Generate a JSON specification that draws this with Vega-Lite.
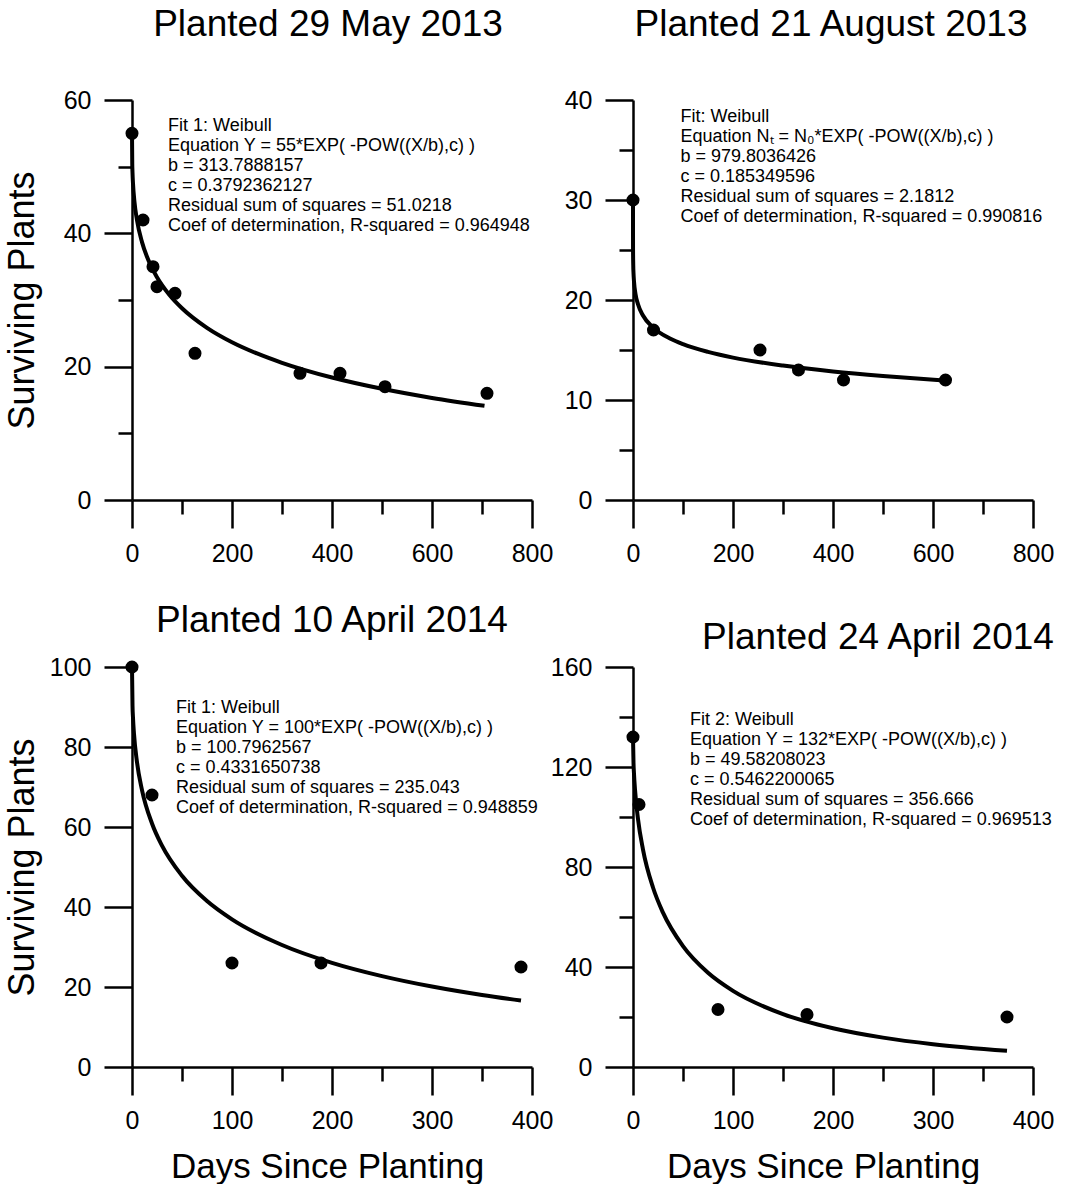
{
  "$schema": "https://vega.github.io/schema/vega-lite/v6.json",
  "background": "white",
  "padding": {"left": 4, "top": 6, "right": 0, "bottom": 0},
  "bounds": "flush",
  "columns": 2,
  "spacing": {"row": 167, "column": 101},
  "config": {
    "view": {"stroke": null},
    "font": "Liberation Sans",
    "axis": {
      "grid": false,
      "domainColor": "black",
      "domainWidth": 2.5,
      "tickColor": "black",
      "tickWidth": 2.5,
      "labelFont": "Liberation Sans",
      "labelFontSize": 25,
      "labelColor": "black",
      "labelFlush": false,
      "labelOverlap": false,
      "labelPadding": 13,
      "titleFont": "Liberation Sans",
      "titleFontSize": 35,
      "titleFontWeight": "normal",
      "titleColor": "black"
    },
    "title": {
      "font": "Liberation Sans",
      "fontSize": 37,
      "fontWeight": "normal",
      "color": "black",
      "frame": "group",
      "anchor": "middle",
      "baseline": "alphabetic"
    }
  },
  "datasets": {
    "fit1": [
      {"days": 0, "plants": 55}, {"days": 0.5, "plants": 50.42}, {"days": 1, "plants": 49.12},
      {"days": 2, "plants": 47.48}, {"days": 5, "plants": 44.67}, {"days": 10, "plants": 41.96},
      {"days": 20, "plants": 38.68}, {"days": 30, "plants": 36.48}, {"days": 50, "plants": 33.42},
      {"days": 75, "plants": 30.76}, {"days": 100, "plants": 28.77}, {"days": 150, "plants": 25.83},
      {"days": 200, "plants": 23.67}, {"days": 250, "plants": 21.98}, {"days": 300, "plants": 20.58},
      {"days": 400, "plants": 18.37}, {"days": 500, "plants": 16.68}, {"days": 600, "plants": 15.31},
      {"days": 705, "plants": 14.13}
    ],
    "obs1": [
      {"days": 0, "plants": 55}, {"days": 22, "plants": 42}, {"days": 42, "plants": 35},
      {"days": 50, "plants": 32}, {"days": 86, "plants": 31}, {"days": 126, "plants": 22},
      {"days": 336, "plants": 19}, {"days": 416, "plants": 19}, {"days": 506, "plants": 17},
      {"days": 710, "plants": 16}
    ],
    "note1": [
      {"label": ["Fit 1: Weibull", "Equation Y = 55*EXP( -POW((X/b),c) )", "b = 313.7888157", "c = 0.3792362127", "Residual sum of squares = 51.0218", "Coef of determination, R-squared = 0.964948"]}
    ],
    "fit2": [
      {"days": 0, "plants": 30}, {"days": 0.01, "plants": 26.64}, {"days": 0.1, "plants": 25.01},
      {"days": 0.5, "plants": 23.47}, {"days": 1, "plants": 22.70}, {"days": 2, "plants": 21.85},
      {"days": 5, "plants": 20.60}, {"days": 10, "plants": 19.57}, {"days": 20, "plants": 18.45},
      {"days": 40, "plants": 17.26}, {"days": 75, "plants": 16.12}, {"days": 100, "plants": 15.58},
      {"days": 150, "plants": 14.81}, {"days": 200, "plants": 14.24}, {"days": 300, "plants": 13.44},
      {"days": 400, "plants": 12.86}, {"days": 500, "plants": 12.41}, {"days": 622, "plants": 11.96}
    ],
    "obs2": [
      {"days": 0, "plants": 30}, {"days": 41, "plants": 17}, {"days": 254, "plants": 15},
      {"days": 331, "plants": 13}, {"days": 421, "plants": 12}, {"days": 625, "plants": 12}
    ],
    "note2": [
      {"label": ["Fit: Weibull", "Equation Nₜ = N₀*EXP( -POW((X/b),c) )", "b = 979.8036426", "c = 0.185349596", "Residual sum of squares = 2.1812", "Coef of determination, R-squared = 0.990816"]}
    ],
    "fit3": [
      {"days": 0, "plants": 100}, {"days": 0.5, "plants": 90.45}, {"days": 1, "plants": 87.32},
      {"days": 2, "plants": 83.27}, {"days": 5, "plants": 76.17}, {"days": 10, "plants": 69.24},
      {"days": 20, "plants": 60.88}, {"days": 30, "plants": 55.34}, {"days": 50, "plants": 47.81},
      {"days": 75, "plants": 41.49}, {"days": 100, "plants": 36.91}, {"days": 150, "plants": 30.49},
      {"days": 200, "plants": 26.04}, {"days": 250, "plants": 22.72}, {"days": 300, "plants": 20.11},
      {"days": 350, "plants": 18.00}, {"days": 389, "plants": 16.61}
    ],
    "obs3": [
      {"days": 0, "plants": 100}, {"days": 20, "plants": 68}, {"days": 100, "plants": 26},
      {"days": 189, "plants": 26}, {"days": 389, "plants": 25}
    ],
    "note3": [
      {"label": ["Fit 1: Weibull", "Equation Y = 100*EXP( -POW((X/b),c) )", "b = 100.7962567", "c = 0.4331650738", "Residual sum of squares = 235.043", "Coef of determination, R-squared = 0.948859"]}
    ],
    "fit4": [
      {"days": 0, "plants": 132}, {"days": 0.5, "plants": 121.71}, {"days": 1, "plants": 117.24},
      {"days": 2, "plants": 111.01}, {"days": 5, "plants": 99.21}, {"days": 10, "plants": 86.98},
      {"days": 20, "plants": 71.80}, {"days": 30, "plants": 61.73}, {"days": 50, "plants": 48.34},
      {"days": 75, "plants": 37.68}, {"days": 100, "plants": 30.44}, {"days": 150, "plants": 21.16},
      {"days": 200, "plants": 15.50}, {"days": 250, "plants": 11.74}, {"days": 300, "plants": 9.11},
      {"days": 374, "plants": 6.47}
    ],
    "obs4": [
      {"days": 0, "plants": 132}, {"days": 6, "plants": 105}, {"days": 85, "plants": 23},
      {"days": 174, "plants": 21}, {"days": 374, "plants": 20}
    ],
    "note4": [
      {"label": ["Fit 2: Weibull", "Equation Y = 132*EXP( -POW((X/b),c) )", "b = 49.58208023", "c = 0.5462200065", "Residual sum of squares = 356.666", "Coef of determination, R-squared = 0.969513"]}
    ]
  },
  "concat": [
    {
      "width": 400, "height": 400,
      "title": {"text": "Planted 29 May 2013", "offset": 44, "dx": -4},
      "layer": [
        {
          "data": {"name": "fit1"},
          "mark": {"type": "line", "color": "black", "strokeWidth": 4, "interpolate": "monotone"},
          "encoding": {
            "x": {"field": "days", "type": "quantitative", "scale": {"domain": [0, 800], "nice": false},
              "axis": {"title": null, "values": [0, 100, 200, 300, 400, 500, 600, 700, 800],
                "tickSize": {"condition": {"test": "datum.value % 200 === 0", "value": 28}, "value": 14},
                "labelExpr": "datum.value % 200 === 0 ? datum.label : ''"}},
            "y": {"field": "plants", "type": "quantitative", "scale": {"domain": [0, 60], "nice": false},
              "axis": {"title": "Surviving Plants", "values": [0, 10, 20, 30, 40, 50, 60],
                "tickSize": {"condition": {"test": "datum.value % 20 === 0", "value": 28}, "value": 14},
                "labelExpr": "datum.value % 20 === 0 ? datum.label : ''",
                "titleFontSize": 36,
                "titleX": -99, "titleY": 200, "titleAngle": 270, "titleAlign": "center", "titleBaseline": "alphabetic"}}
          }
        },
        {
          "data": {"name": "obs1"},
          "mark": {"type": "circle", "color": "black", "opacity": 1, "size": 170},
          "encoding": {
            "x": {"field": "days", "type": "quantitative"},
            "y": {"field": "plants", "type": "quantitative"}
          }
        },
        {
          "data": {"name": "note1"},
          "mark": {"type": "text", "align": "left", "baseline": "top", "fontSize": 18, "lineHeight": 20, "font": "Liberation Sans", "color": "black"},
          "encoding": {
            "x": {"datum": 72, "type": "quantitative"},
            "y": {"datum": 57.4, "type": "quantitative"},
            "text": {"field": "label"}
          }
        }
      ]
    },
    {
      "width": 400, "height": 400,
      "title": {"text": "Planted 21 August 2013", "offset": 44, "dx": -2},
      "layer": [
        {
          "data": {"name": "fit2"},
          "mark": {"type": "line", "color": "black", "strokeWidth": 4, "interpolate": "monotone"},
          "encoding": {
            "x": {"field": "days", "type": "quantitative", "scale": {"domain": [0, 800], "nice": false},
              "axis": {"title": null, "values": [0, 100, 200, 300, 400, 500, 600, 700, 800],
                "tickSize": {"condition": {"test": "datum.value % 200 === 0", "value": 28}, "value": 14},
                "labelExpr": "datum.value % 200 === 0 ? datum.label : ''"}},
            "y": {"field": "plants", "type": "quantitative", "scale": {"domain": [0, 40], "nice": false},
              "axis": {"title": null, "values": [0, 5, 10, 15, 20, 25, 30, 35, 40],
                "tickSize": {"condition": {"test": "datum.value % 10 === 0", "value": 28}, "value": 14},
                "labelExpr": "datum.value % 10 === 0 ? datum.label : ''"}}
          }
        },
        {
          "data": {"name": "obs2"},
          "mark": {"type": "circle", "color": "black", "opacity": 1, "size": 170},
          "encoding": {
            "x": {"field": "days", "type": "quantitative"},
            "y": {"field": "plants", "type": "quantitative"}
          }
        },
        {
          "data": {"name": "note2"},
          "mark": {"type": "text", "align": "left", "baseline": "top", "fontSize": 18, "lineHeight": 20, "font": "Liberation Sans", "color": "black"},
          "encoding": {
            "x": {"datum": 95, "type": "quantitative"},
            "y": {"datum": 39.25, "type": "quantitative"},
            "text": {"field": "label"}
          }
        }
      ]
    },
    {
      "width": 400, "height": 400,
      "title": {"text": "Planted 10 April 2014", "offset": 15, "dx": 0},
      "layer": [
        {
          "data": {"name": "fit3"},
          "mark": {"type": "line", "color": "black", "strokeWidth": 4, "interpolate": "monotone"},
          "encoding": {
            "x": {"field": "days", "type": "quantitative", "scale": {"domain": [0, 400], "nice": false},
              "axis": {"title": "Days Since Planting", "values": [0, 50, 100, 150, 200, 250, 300, 350, 400],
                "tickSize": {"condition": {"test": "datum.value % 100 === 0", "value": 28}, "value": 14},
                "labelExpr": "datum.value % 100 === 0 ? datum.label : ''",
                "titleX": 195, "titleY": 110, "titleAlign": "center", "titleBaseline": "alphabetic"}},
            "y": {"field": "plants", "type": "quantitative", "scale": {"domain": [0, 100], "nice": false},
              "axis": {"title": "Surviving Plants", "values": [0, 10, 20, 30, 40, 50, 60, 70, 80, 90, 100],
                "tickSize": {"condition": {"test": "datum.value % 20 === 0", "value": 28}, "value": 14},
                "labelExpr": "datum.value % 20 === 0 ? datum.label : ''",
                "titleFontSize": 36,
                "titleX": -99, "titleY": 200, "titleAngle": 270, "titleAlign": "center", "titleBaseline": "alphabetic"}}
          }
        },
        {
          "data": {"name": "obs3"},
          "mark": {"type": "circle", "color": "black", "opacity": 1, "size": 170},
          "encoding": {
            "x": {"field": "days", "type": "quantitative"},
            "y": {"field": "plants", "type": "quantitative"}
          }
        },
        {
          "data": {"name": "note3"},
          "mark": {"type": "text", "align": "left", "baseline": "top", "fontSize": 18, "lineHeight": 20, "font": "Liberation Sans", "color": "black"},
          "encoding": {
            "x": {"datum": 44, "type": "quantitative"},
            "y": {"datum": 92, "type": "quantitative"},
            "text": {"field": "label"}
          }
        }
      ]
    },
    {
      "width": 400, "height": 400,
      "title": {"text": "Planted 24 April 2014", "offset": -2, "dx": 45},
      "layer": [
        {
          "data": {"name": "fit4"},
          "mark": {"type": "line", "color": "black", "strokeWidth": 4, "interpolate": "monotone"},
          "encoding": {
            "x": {"field": "days", "type": "quantitative", "scale": {"domain": [0, 400], "nice": false},
              "axis": {"title": "Days Since Planting", "values": [0, 50, 100, 150, 200, 250, 300, 350, 400],
                "tickSize": {"condition": {"test": "datum.value % 100 === 0", "value": 28}, "value": 14},
                "labelExpr": "datum.value % 100 === 0 ? datum.label : ''",
                "titleX": 190, "titleY": 110, "titleAlign": "center", "titleBaseline": "alphabetic"}},
            "y": {"field": "plants", "type": "quantitative", "scale": {"domain": [0, 160], "nice": false},
              "axis": {"title": null, "values": [0, 20, 40, 60, 80, 100, 120, 140, 160],
                "tickSize": {"condition": {"test": "datum.value % 40 === 0", "value": 28}, "value": 14},
                "labelExpr": "datum.value % 40 === 0 ? datum.label : ''"}}
          }
        },
        {
          "data": {"name": "obs4"},
          "mark": {"type": "circle", "color": "black", "opacity": 1, "size": 170},
          "encoding": {
            "x": {"field": "days", "type": "quantitative"},
            "y": {"field": "plants", "type": "quantitative"}
          }
        },
        {
          "data": {"name": "note4"},
          "mark": {"type": "text", "align": "left", "baseline": "top", "fontSize": 18, "lineHeight": 20, "font": "Liberation Sans", "color": "black"},
          "encoding": {
            "x": {"datum": 57, "type": "quantitative"},
            "y": {"datum": 142.5, "type": "quantitative"},
            "text": {"field": "label"}
          }
        }
      ]
    }
  ]
}
